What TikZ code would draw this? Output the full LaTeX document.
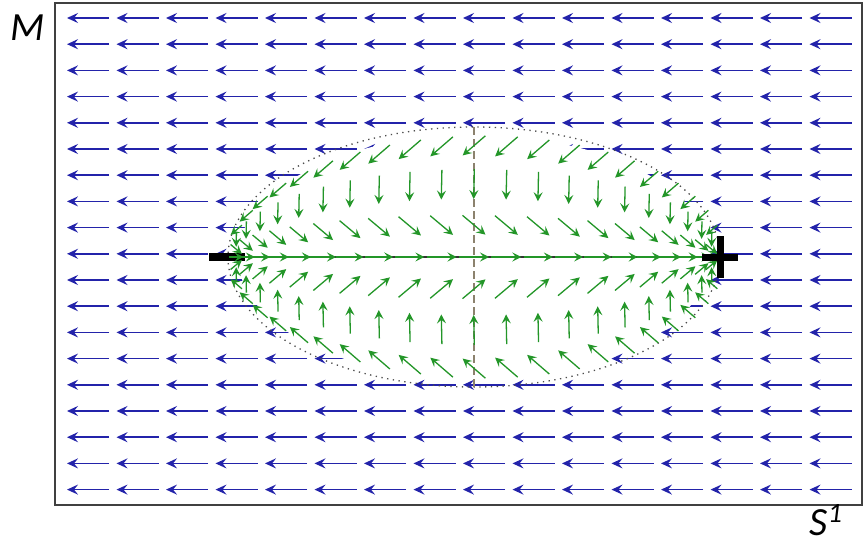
\documentclass[tikz,border=0pt]{standalone}
\usepackage{fontspec}
\setmainfont{Carlito}
\usepackage{xcolor}
\usetikzlibrary{arrows.meta,positioning,calc}
\definecolor{fieldblue}{RGB}{35,35,170}
\definecolor{fieldgreen}{RGB}{35,150,40}
\definecolor{axisdash}{RGB}{140,130,110}

\begin{document}
\begin{tikzpicture}[
    x = 1pt, y = -1pt,
    flow/.style = {draw=fieldblue, line width=1.6pt, -{Stealth[length=11pt, width=10pt, inset=4pt]}},
    swirl/.style = {draw=fieldgreen, line width=1.3pt, -{Stealth[length=9pt, width=9pt, inset=3.5pt]}},
    pole/.style = {fill=black, inner sep=0pt},
    tag/.style = {font=\fontsize{40}{44}\selectfont\itshape, inner sep=0pt}
]
\useasboundingbox (0,0) rectangle (865,546);
\fill[white] (0,0) rectangle (865,546);

\foreach \row in {0,...,18} {
  \foreach \col in {0,...,15} {
    \path[flow] ({109+49.5*\col}, {18+26.2*\row}) -- ++(-42,0);
  }
}
\draw[line width=1.4pt, black!75] (55,3) rectangle (862,505);

\fill[white] (474,257) ellipse [x radius=236, y radius=122];
\draw[line width=1.3pt, black!70, dash pattern=on 1.3pt off 4.5pt] (474,257) ellipse [x radius=246, y radius=130];
\draw[axisdash, line width=1.3pt, dash pattern=on 8pt off 4pt] (474,127) -- (474,387);

\node[pole, minimum width=36pt, minimum height=8pt] (minus) at (227,257) {};
\node[inner sep=0pt, minimum width=36pt, minimum height=41pt] (plus) at (720,257) {};
\draw[black!80, line width=1.2pt] (minus.east) -- (plus.center);

\foreach \k in {-10,...,10} {
  \foreach \s in {-0.87,-0.57,-0.25,0,0.25,0.57,0.87} {
    \pgfmathsetmacro\u{sin(7.6*\k)}
    \pgfmathsetmacro\h{sqrt(1-\u*\u)}
    \pgfmathsetmacro\len{10+20*\h}
    \pgfmathsetmacro\ang{160*\s}
    \path[swirl] ({474+245*\u}, {257-128*\s*\h}) ++({\ang+180}:{\len/2}) -- ++(\ang:\len);
  }
}

\draw[line width=7pt] (plus.west) -- (plus.east) (plus.north) -- (plus.south);

\node[tag] (manifold) at (28,28) {M};
\node[tag] (circle) at (826,520) {S\raisebox{13pt}{\fontsize{28}{30}\selectfont 1}};
\end{tikzpicture}
\end{document}
